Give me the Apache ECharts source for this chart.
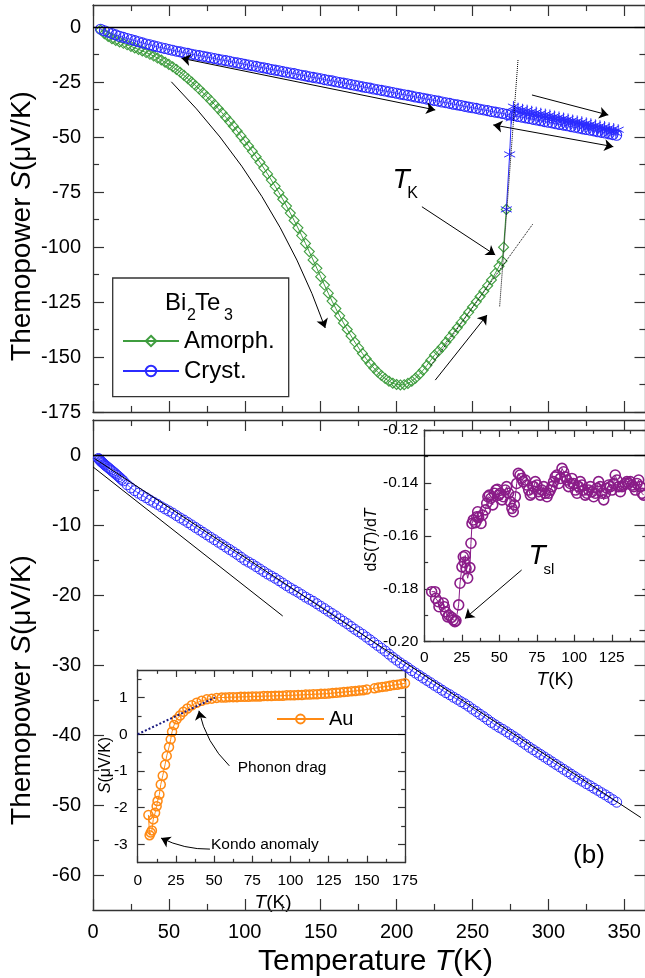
<!DOCTYPE html>
<html>
<head>
<meta charset="utf-8">
<title>Bi2Te3 thermopower</title>
<script src="https://cdn.jsdelivr.net/npm/echarts@6/dist/echarts.min.js"></script>
<style>
  html, body { margin: 0; padding: 0; background: #fff; }
  #main { width: 645px; height: 978px; }
</style>
</head>
<body>
<div id="main"></div>
<script>
// temperature grid used by the dense sweeps (K)
const tGrid = [5,7.5,10,12.5,15,17.5,20,22.5,25,27.5,30,32.5,35,37.5,40,42.5,45,47.5,50,52.5,55,57.5,60,62.5,65,67.5,70,72.5,75,77.5,80,82.5,85,87.5,90,92.5,95,97.5,100,102.5,105,107.5,110,112.5,115,117.5,120,122.5,125,127.5,130,132.5,135,137.5,140,142.5,145,147.5,150,152.5,155,157.5,160,162.5,165,167.5,170,172.5,175,177.5,180,182.5,185,187.5,190,192.5,195,197.5,200,202.5,205,207.5,210,212.5,215,217.5,220,222.5,225,227.5,230,232.5,235,237.5,240,242.5,245,247.5,250,252.5,255,257.5,260,262.5,265,267.5,270,272.5,275,277.5,280,282.5,285,287.5,290,292.5,295,297.5,300,302.5,305,307.5,310,312.5,315,317.5,320,322.5,325,327.5,330,332.5,335,337.5,340,342.5,345]

// (a) amorphous film, first heating
const amorphT = tGrid.slice(0, 106).concat([269.5, 270.5, 272.3])
const amorphS = [-1.4,-3.0,-4.3,-5.3,-6.1,-6.8,-7.4,-8.1,-8.8,-9.5,-10.2,-10.9,-11.6,-12.4,-13.2,-14.1,-15.0,-16.0,-17.0,
  -18.1,-19.3,-20.6,-22.0,-23.5,-25.0,-26.6,-28.2,-29.9,-31.6,-33.4,-35.2,-37.1,-39.0,-41.0,-43.0,-45.1,-47.3,-49.5,-51.8,
  -54.1,-56.5,-59.0,-61.5,-64.1,-66.8,-69.6,-72.4,-75.3,-78.3,-81.4,-84.6,-87.9,-91.3,-94.8,-98.4,-102.1,-105.9,-109.7,-113.5,
  -117.3,-121.0,-124.6,-128.0,-131.3,-134.5,-137.5,-140.4,-143.2,-145.9,-148.4,-150.8,-153.0,-155.0,-156.8,-158.4,-159.8,-161.0,-161.9,-162.5,
  -162.7,-162.6,-162.0,-161.0,-159.6,-157.9,-156.0,-153.8,-151.5,-149.1,-147.4,-145.5,-143.3,-141.1,-138.9,-136.7,-134.4,-132.1,-129.7,-127.3,
  -124.9,-122.5,-120.1,-117.6,-115.0,-112.0,-108.8,
  -106.4,-100.1,-82.9]

// (a) crystallised film
const crystS = [-1.0,-1.7,-2.4,-3.0,-3.6,-4.2,-4.7,-5.2,-5.7,-6.2,-6.7,-7.2,-7.7,-8.1,-8.6,-9.0,-9.4,-9.8,-10.2,-10.6,-11.0,-11.3,
  -11.7,-12.0,-12.4,-12.7,-13.0,-13.3,-13.7,-14.0,-14.3,-14.7,
  -15.0,-15.3,-15.6,-16.0,-16.3,-16.6,-17.0,-17.3,-17.6,-17.9,
  -18.3,-18.6,-18.9,-19.3,-19.6,-19.9,-20.3,-20.6,-20.9,-21.2,
  -21.6,-21.9,-22.2,-22.6,-22.9,-23.2,-23.5,-23.9,-24.2,-24.5,
  -24.9,-25.2,-25.5,-25.8,-26.2,-26.5,-26.8,-27.2,-27.5,-27.8,
  -28.2,-28.5,-28.8,-29.1,-29.5,-29.8,-30.1,-30.5,-30.8,-31.1,
  -31.4,-31.8,-32.1,-32.4,-32.8,-33.1,-33.4,-33.7,-34.1,-34.4,
  -34.7,-35.1,-35.4,-35.7,-36.1,-36.4,-36.7,-37.0,-37.4,-37.7,
  -38.0,-38.4,-38.7,-39.0,-39.3,-39.7,-40.0,-40.3,-40.7,-41.0,
  -41.3,-41.6,-42.0,-42.3,-42.6,-43.0,-43.3,-43.6,-44.0,-44.3,
  -44.6,-44.9,-45.3,-45.6,-45.9,-46.3,-46.6,-46.9,-47.2,-47.6,
  -47.9,-48.2,-48.6,-48.9,-49.2]

// (a) crystallisation jump and following heating (asterisks)
const jumpT = [272.3,274.5,275.6,277,278.5,280,281.5,283,284.5,286,287.5,289,290.5,292,293.5,295,296.5,298,299.5,301,302.5,304,305.5,
  307,308.5,310,311.5,313,314.5,316,317.5,319,320.5,322,323.5,325,326.5,328,329.5,331,332.5,334,335.5,337,338.5,340,341.5,343,344.5,346]
const jumpS = [-82.9,-57.9,-41.5,-36.2,-38.4,-36.9,-39.0,-37.4,-39.4,-37.8,-39.9,-38.3,-40.3,-38.7,-40.8,-39.2,-41.2,-39.6,-41.6,-40.0,-42.1,-40.5,-42.5,
  -40.9,-43.0,-41.4,-43.4,-41.8,-43.8,-42.3,-44.3,-42.7,-44.7,-43.1,-45.2,-43.6,-45.6,-44.0,-46.0,-44.5,-46.5,-44.9,-46.9,-45.3,-47.4,-45.8,-47.8,-46.2,-48.2,-46.7]

// (b) crystalline sample
const lowT = [3.5,4,4.5,5,5.5,6,6.5,7,7.5,8,9,10,11,12,13,14,15,16,17,18,19]
const lowS = [-0.5,-0.6,-0.72,-0.85,-0.95,-1.05,-1.15,-1.25,-1.35,-1.45,-1.62,-1.8,-1.98,-2.16,-2.35,-2.53,-2.72,-2.9,-3.1,-3.3,-3.5]
const crystBT = lowT.concat(tGrid.slice(6))
const crystBS = lowS.concat([
  -3.7,-4.25,-4.7,-5.1,-5.45,-5.8,-6.1,-6.45,-6.75,-7.05,
  -7.4,-7.7,-8.0,-8.3,-8.65,-9.0,-9.3,-9.65,-10.0,-10.35,
  -10.7,-11.05,-11.4,-11.75,-12.1,-12.45,-12.8,-13.15,-13.5,-13.85,
  -14.2,-14.6,-15.0,-15.3,-15.6,-15.95,-16.3,-16.65,-17.0,-17.3,
  -17.6,-17.95,-18.3,-18.65,-19.0,-19.3,-19.6,-19.95,-20.3,-20.6,
  -20.9,-21.25,-21.6,-21.95,-22.3,-22.65,-23.0,-23.4,-23.75,-24.1,
  -24.5,-24.9,-25.25,-25.6,-26.0,-26.4,-26.8,-27.2,-27.6,-28.0,
  -28.45,-28.9,-29.3,-29.7,-30.05,-30.4,-30.8,-31.15,-31.5,-31.85,
  -32.2,-32.55,-32.9,-33.25,-33.6,-33.95,-34.25,-34.6,-34.9,-35.25,
  -35.55,-35.9,-36.3,-36.65,-37.05,-37.4,-37.8,-38.2,-38.55,-38.9,
  -39.2,-39.55,-39.9,-40.25,-40.6,-41.0,-41.35,-41.75,-42.1,-42.45,
  -42.8,-43.15,-43.5,-43.85,-44.2,-44.55,-44.9,-45.25,-45.6,-45.95,
  -46.3,-46.6,-46.95,-47.25,-47.6,-47.9,-48.25,-48.55,-48.9,-49.25,
  -49.6])

// inset: dS/dT
const dsT = [4.9,7.1,7.6,9.3,9.8,12.7,13.3,14.2,15.6,16.4,18.2,19.3,20.4,21.1,22.9,23.8,25.1,26,26.7,27.3,27.8,28.9,30.4,31.1,31.8,32.7,34.1,35,35.6,
  36.2,37.8,38.9,40.7,41.6,42.4,43.3,44.4,45.6,46.7,
  47.8,48.7,49.6,50.7,51.8,52.7,54,54.9,56.2,57.3,
  58.4,59.3,60,60.7,61.6,62.7,63.8,64.9,66,67.3,
  68.4,69.6,70.7,71.8,72.9,74,75.1,76.2,77.3,78.4,
  79.6,80.7,81.8,82.9,84,85.1,86.2,87.3,88.4,89.6,
  90.7,91.8,92.9,94,95.1,96.2,97.3,98.4,99.6,100.7,
  101.8,102.9,104,105.1,106.2,107.3,108.4,109.6,110.7,111.8,
  112.9,114,115.1,116.2,117.3,118.4,119.6,120.7,121.8,122.9,
  124,125.1,126.2,127.3,128.4,129.6,130.7,131.8,132.9,134,
  135.1,136.2,137.3,138.4,139.6,140.7,141.8,142.9,144,145.1,
  146.2]
const dsS = [-0.1811,-0.1811,-0.1836,-0.1849,-0.1868,-0.1854,-0.1868,-0.1887,-0.1906,-0.1900,-0.1908,-0.1918,-0.1924,-0.1920,-0.1861,
  -0.1779,-0.1717,-0.1679,-0.1700,-0.1674,-0.1723,-0.1760,-0.1720,-0.1628,-0.1553,-0.1540,-0.1550,-0.1528,-0.1509,
  -0.1530,-0.1553,-0.1521,-0.1502,-0.1477,-0.1452,-0.1446,-0.1458,-0.1483,-0.1439,
  -0.1427,-0.1424,-0.1446,-0.1439,-0.1464,-0.1452,-0.1427,-0.1414,-0.1439,-0.1471,
  -0.1496,-0.1509,-0.1483,-0.1452,-0.1402,-0.1364,-0.1370,-0.1383,-0.1395,-0.1389,
  -0.1408,-0.1427,-0.1446,-0.1439,-0.1414,-0.1395,-0.1408,-0.1433,-0.1446,-0.1427,
  -0.1414,-0.1439,-0.1452,-0.1439,-0.1427,-0.1414,-0.1395,-0.1377,-0.1370,-0.1402,
  -0.1383,-0.1345,-0.1358,-0.1377,-0.1389,-0.1414,-0.1402,-0.1383,-0.1402,-0.1427,
  -0.1439,-0.1414,-0.1395,-0.1408,-0.1427,-0.1446,-0.1439,-0.1427,-0.1414,-0.1433,
  -0.1452,-0.1439,-0.1420,-0.1395,-0.1414,-0.1439,-0.1464,-0.1439,-0.1420,-0.1408,
  -0.1414,-0.1427,-0.1402,-0.1370,-0.1389,-0.1414,-0.1433,-0.1414,-0.1408,-0.1402,
  -0.1395,-0.1402,-0.1395,-0.1408,-0.1414,-0.1427,-0.1402,-0.1389,-0.1414,-0.1439,
  -0.1446]

// inset: Au reference
const auT = [7,7.8,8.5,9.3,10.2,11.4,12.4,13,14.2,15.1,16.4,17.9,19,20.5,21.6,22.5,23.8,25.5,27.7,29.9,
  32.5,35.4,38.6,41.9,45.2,48.5,51.7,55,57.5,60,62.5,65,67.5,70,72.5,75,77.5,80,82.5,85,
  87.5,90,92.5,95,97.5,100,102.5,105,107.5,110,112.5,115,117.5,120,122.5,125,127.5,130,132.5,135,
  137.5,140,142.5,145,147.5,150,155,157.5,160,162.5,165,167.5,170,172.5,175]
const auS = [-2.2,-2.75,-2.68,-2.62,-2.32,-2.14,-1.96,-1.82,-1.64,-1.37,-1.13,-0.83,-0.59,-0.35,-0.14,0.07,0.25,0.41,0.51,0.61,
  0.7,0.79,0.86,0.91,0.95,0.97,0.99,1.0,1.0,1.01,1.01,1.01,1.02,1.02,1.02,1.03,1.03,1.03,1.04,1.04,
  1.04,1.05,1.05,1.05,1.06,1.06,1.06,1.07,1.07,1.08,1.08,1.09,1.09,1.10,1.10,1.11,1.12,1.13,1.14,1.15,
  1.16,1.17,1.18,1.19,1.2,1.22,1.25,1.27,1.29,1.3,1.32,1.34,1.35,1.37,1.39]

// tick positions and labels
const majorX = [0,50,100,150,200,250,300,350]
const minorX = [25,75,125,175,225,275,325]
const topMajorY = [-175,-150,-125,-100,-75,-50,-25,0]
const topMinorY = [-162.5,-137.5,-112.5,-87.5,-62.5,-37.5,-12.5]
const botMajorY = [-60,-50,-40,-30,-20,-10,0]
const botMinorY = [-55,-45,-35,-25,-15,-5]
const dsMajorX = [0,25,50,75,100,125,150]
const dsMinorX = [12.5,37.5,62.5,87.5,112.5,137.5]
const dsLabelX = [0,25,50,75,100,125]
const dsMajorY = [-0.2,-0.18,-0.16,-0.14,-0.12]
const dsMinorY = [-0.19,-0.17,-0.15,-0.13]
const auMajorX = [0,25,50,75,100,125,150,175]
const auMinorX = [12.5,37.5,62.5,87.5,112.5,137.5,162.5]
const auMajorY = [-3,-2,-1,0,1]
const auMinorY = [-2.5,-1.5,-0.5,0.5,1.5]

// guide lines and arrows, in data units
const topDoubleArrows = [[[58.3,-14.2],[225.5,-37.7]], [[263.7,-44.5],[342.8,-54.4]]]
const topArrows = [[[289.2,-30.9],[339.5,-40]], [[225.5,-160.5],[259.6,-130.9]], [[216.7,-81.7],[265,-103.6]]]
const topCurvedArrow = [[[51.6,-24.9],[153,-136.8]]]
const topDotted = [[[280,-15],[267.9,-127.1]], [[289.6,-89.7],[222,-154.4]]]
const botLines = [[[0,-1.7],[125,-23]], [[1,-0.5],[361,-51.8]]]
const tslArrow = [[[64.9,-0.1729],[27.1,-0.1912]]]
const auDotted = [[[0,0],[50.6,1.0]]]
const phononArrow = [[[60,-0.86],[40.1,0.64]]]
const kondoArrow = [[[47.3,-3.13],[15.3,-2.83]]]

const FONT = '"Liberation Sans", Arial, Helvetica, sans-serif'
const AX = '#333'
const GREEN = '#3f9d3f'
const BLUE = '#2b2bff'
const PURPLE = '#8a1c88'
const ORANGE = '#ff8a14'
const NONE = 'rgba(0,0,0,0)'
const ASTERISK = 'path://M0,-10L0,10M-8.66,-5L8.66,5M-8.66,5L8.66,-5'

function pts(xs, ys) {
  return xs.map((x, i) => [x, ys[i]])
}

// four axes per side pair: labelled major, minor, mirrored major, mirrored minor
function axisSet(dim, grid, min, max, major, minor, labels, tickLen, labelOpt) {
  const sides = dim === 'x' ? ['bottom', 'top'] : ['left', 'right']
  const out = []
  sides.forEach((pos, s) => {
    [major, minor].forEach((vals, m) => {
      out.push({
        type: 'value', gridIndex: grid, position: pos, min: min, max: max,
        axisLine: { show: m === 0, onZero: false, lineStyle: { color: AX, width: 1.3 } },
        axisTick: { show: true, inside: true, length: m === 0 ? tickLen : tickLen * 0.55, customValues: vals,
          lineStyle: { color: AX, width: 1.2 } },
        axisLabel: (s === 0 && m === 0 && labels)
          ? Object.assign({ show: true, customValues: labels, color: '#000', fontFamily: FONT }, labelOpt)
          : { show: false },
        splitLine: { show: false }
      })
    })
  })
  return out
}

function dataSeries(name, grid, data, color, symbol, size, border, lineWidth) {
  return {
    type: 'line', name: name, xAxisIndex: grid * 4, yAxisIndex: grid * 4, data: data,
    symbol: symbol, symbolSize: size, silent: true, animation: false,
    itemStyle: { color: NONE, borderColor: color, borderWidth: border },
    lineStyle: { color: color, width: lineWidth },
    emphasis: { disabled: true }
  }
}

function zeroLine(width) {
  return { silent: true, symbol: 'none', label: { show: false }, animation: false,
    lineStyle: { color: '#000', width: width, type: 'solid' }, data: [{ yAxis: 0 }] }
}

function guide(grid, segs, symbol, style) {
  return {
    type: 'lines', coordinateSystem: 'cartesian2d', xAxisIndex: grid * 4, yAxisIndex: grid * 4,
    silent: true, z: 5, symbol: symbol, symbolSize: 9,
    lineStyle: Object.assign({ color: '#000', width: 1, opacity: 1, curveness: 0, type: 'solid' }, style),
    data: segs.map(c => ({ coords: c }))
  }
}

function txt(x, y, text, size, opt) {
  opt = opt || {}
  return {
    type: 'text', x: x, y: y, silent: true, rotation: opt.rotation || 0,
    style: {
      text: text, fill: '#000', fontSize: size, fontFamily: FONT, fontStyle: opt.italic ? 'italic' : 'normal',
      textAlign: opt.align || 'center', verticalAlign: 'middle', textVerticalAlign: 'middle',
      rich: { i: { fontSize: size, fontFamily: FONT, fontStyle: 'italic', fill: '#000' } }
    }
  }
}

let chart = echarts.init(document.getElementById('main'), null, { renderer: 'canvas' })

let amorph = dataSeries('Amorph.', 0, pts(amorphT, amorphS), GREEN, 'diamond', 10, 1.1, 1)
amorph.markLine = zeroLine(1.4)
let crystB = dataSeries('Cryst. (b)', 1, pts(crystBT, crystBS), BLUE, 'circle', 10, 1, 0.8)
crystB.markLine = zeroLine(1.4)
let au = dataSeries('Au', 3, pts(auT, auS), ORANGE, 'circle', 9, 1.5, 1)
au.markLine = zeroLine(1.2)

let option = {
  animation: false,
  backgroundColor: '#fff',
  grid: [
    { left: 93, top: 5, width: 552.5, height: 407 },
    { left: 93, top: 420, width: 552.5, height: 490 },
    { left: 424.3, top: 430, width: 225, height: 211.7 },
    { left: 137.7, top: 670, width: 267.3, height: 192.7 }
  ].map(g => Object.assign({ containLabel: false, outerBoundsMode: 'none' }, g)),
  xAxis: [].concat(
    axisSet('x', 0, 0, 364, majorX, minorX, null, 11),
    axisSet('x', 1, 0, 364, majorX, minorX, majorX, 11, { fontSize: 20, margin: 12 }),
    axisSet('x', 2, 0, 150, dsMajorX, dsMinorX, dsLabelX, 7, { fontSize: 15.5, margin: 8 }),
    axisSet('x', 3, 0, 175, auMajorX, auMinorX, auMajorX, 7, { fontSize: 15.5, margin: 10 })
  ),
  yAxis: [].concat(
    axisSet('y', 0, -175, 10, topMajorY, topMinorY, topMajorY, 11, { fontSize: 20, margin: 12 }),
    axisSet('y', 1, -65, 5, botMajorY, botMinorY, botMajorY, 11, { fontSize: 20, margin: 12 }),
    axisSet('y', 2, -0.2, -0.12, dsMajorY, dsMinorY, dsMajorY, 7,
      { fontSize: 15.5, margin: 6, formatter: v => v.toFixed(2) }),
    axisSet('y', 3, -3.5, 1.75, auMajorY, auMinorY, auMajorY, 7, { fontSize: 15.5, margin: 10 })
  ),
  legend: [
    { data: ['Amorph.', 'Cryst.'], orient: 'vertical', left: 122, top: 329, padding: 0,
      itemWidth: 56, itemHeight: 13, itemGap: 6, selectedMode: false,
      textStyle: { fontSize: 24, fontFamily: FONT, color: '#000' } },
    { data: ['Au'], left: 276, top: 709, padding: 0, itemWidth: 47, itemHeight: 11, selectedMode: false,
      textStyle: { fontSize: 20, fontFamily: FONT, color: '#000' } }
  ],
  series: [
    amorph,
    dataSeries('Cryst.', 0, pts(tGrid, crystS), BLUE, 'circle', 10, 1.1, 0.8),
    dataSeries('jump', 0, pts(jumpT, jumpS), BLUE, ASTERISK, 11, 1, 1),
    crystB,
    dataSeries('dSdT', 2, pts(dsT, dsS), PURPLE, 'circle', 10, 1.6, 1),
    au,
    guide(0, topDoubleArrows, ['arrow', 'arrow']),
    guide(0, topArrows, ['none', 'arrow']),
    guide(0, topCurvedArrow, ['none', 'arrow'], { curveness: 0.11 }),
    guide(0, topDotted, ['none', 'none'], { type: 'dotted' }),
    guide(1, botLines, ['none', 'none']),
    guide(2, tslArrow, ['none', 'arrow']),
    guide(3, auDotted, ['none', 'none'], { type: 'dotted', width: 2, color: '#1a1a80' }),
    guide(3, phononArrow, ['none', 'arrow'], { curveness: 0.15 }),
    guide(3, kondoArrow, ['none', 'arrow'], { curveness: 0.12 })
  ],
  graphic: [
    { type: 'rect', silent: true, shape: { x: 112.7, y: 278, width: 176, height: 118.7 },
      style: { fill: NONE, stroke: AX, lineWidth: 1.3 } },
    txt(165, 303, 'Bi', 24, { align: 'left' }),
    txt(187, 316, '2', 16, { align: 'left' }),
    txt(195, 303, 'Te', 24, { align: 'left' }),
    txt(224, 316, '3', 16, { align: 'left' }),
    txt(22, 226, 'Themopower {i|S}(μV/K)', 28, { rotation: Math.PI / 2 }),
    txt(22, 690, 'Themopower {i|S}(μV/K)', 28, { rotation: Math.PI / 2 }),
    txt(258, 962, 'Temperature {i|T}(K)', 30, { align: 'left' }),
    txt(401, 180, 'T', 28, { italic: true }),
    txt(412.5, 194, 'K', 16),
    txt(537, 556, 'T', 28, { italic: true }),
    txt(549, 570, 'sl', 15),
    txt(589, 856, '(b)', 26),
    txt(372, 540, 'd{i|S}({i|T})/d{i|T}', 16, { rotation: Math.PI / 2 }),
    txt(555, 680, '{i|T}(K)', 19),
    txt(106, 765, '{i|S}(μV/K)', 16, { rotation: Math.PI / 2 }),
    txt(273, 903, '{i|T}(K)', 19),
    txt(237.7, 768, 'Phonon drag', 15.5, { align: 'left' }),
    txt(211, 845, 'Kondo anomaly', 15.5, { align: 'left' })
  ]
}

chart.setOption(option)
window.onresize = function () {
  chart.resize()
}
</script>
</body>
</html>
